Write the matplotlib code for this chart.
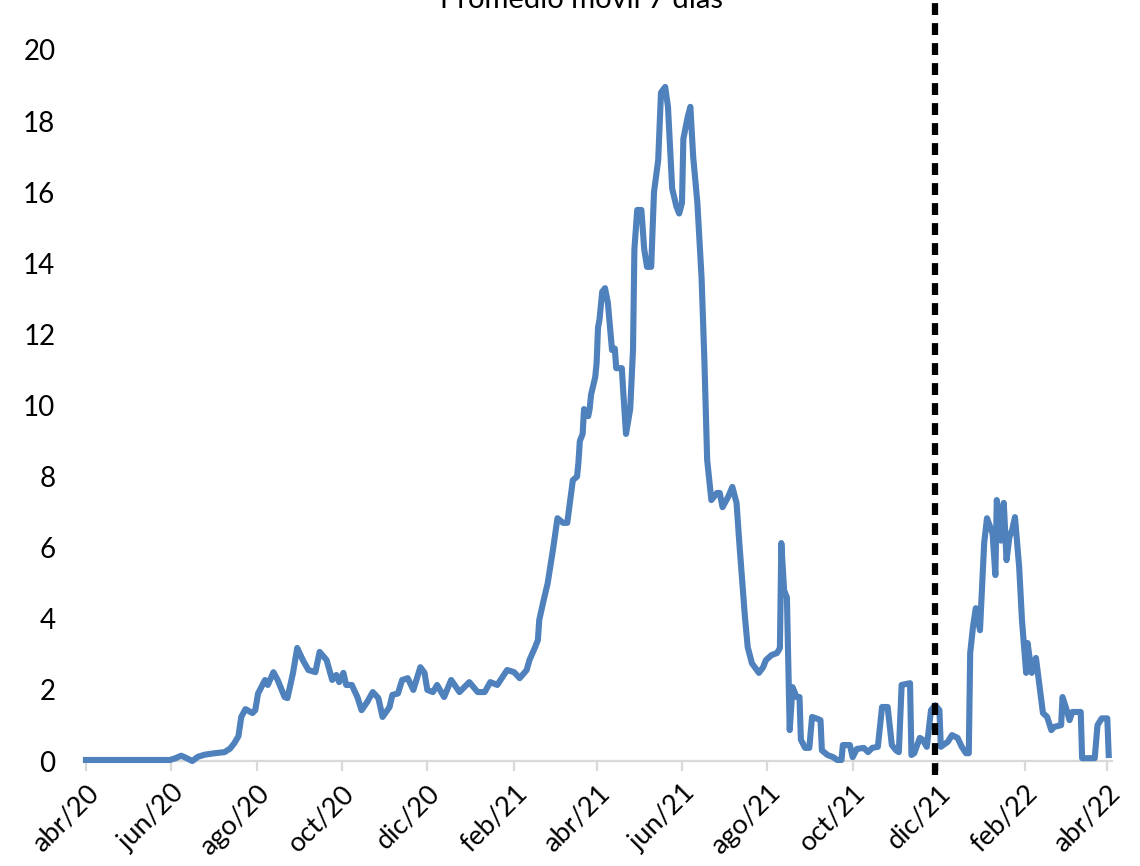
import numpy as np
import pandas as pd
import matplotlib
matplotlib.use("Agg")
import matplotlib.pyplot as plt

plt.rcParams['font.family'] = ['Lato', 'DejaVu Sans']

# --- Data ---
start_date = "2020-04-01"
# days since start_date
days = [0, 31, 60, 64, 68, 71, 76, 80, 85, 92, 99, 103, 106, 109, 111, 114, 119, 121,
        123, 128, 130, 134, 137, 142, 144, 148, 151, 155, 159, 164, 167, 172, 176, 179,
        181, 184, 186, 190, 194, 197, 201, 205, 209, 212, 217, 219, 223, 226, 230, 234,
        239, 242, 244, 248, 251, 256, 261, 267, 274, 280, 285, 289, 294, 301, 306, 310,
        315, 317, 321, 323, 324, 327, 330, 334, 337, 341, 344, 348, 351, 352, 353, 355,
        356, 359, 360, 361, 364, 365, 366, 367, 369, 371, 373, 376, 378, 379, 383, 384,
        386, 389, 391, 392, 394, 397, 399, 401, 404, 406, 409, 411, 414, 416, 419, 422,
        424, 426, 427, 430, 432, 434, 437, 440, 442, 444, 447, 451, 453, 455, 459, 462,
        465, 467, 469, 471, 473, 476, 481, 484, 486, 490, 494, 496, 497, 499, 501, 503,
        505, 508, 510, 511, 514, 517, 519, 522, 525, 526, 530, 534, 537, 540, 541, 546,
        548, 551, 556, 559, 562, 566, 569, 573, 576, 579, 581, 583, 589, 590, 592, 596,
        598, 601, 604, 607, 610, 611, 616, 619, 623, 626, 629, 631, 632, 634, 636, 639,
        642, 644, 648, 650, 651, 654, 656, 658, 660, 662, 664, 667, 669, 672, 673, 676,
        679, 681, 684, 687, 690, 692, 697, 698, 701, 703, 705, 711, 712, 721, 723, 726,
        730, 731]
promedio = [0.03, 0.03, 0.03, 0.08, 0.15, 0.10, 0.00, 0.12, 0.18, 0.22, 0.25, 0.35, 0.50,
            0.70, 1.24, 1.46, 1.35, 1.43, 1.90, 2.28, 2.14, 2.50, 2.28, 1.80, 1.77, 2.48,
            3.18, 2.84, 2.56, 2.50, 3.07, 2.84, 2.28, 2.42, 2.22, 2.48, 2.14, 2.14, 1.80,
            1.43, 1.66, 1.94, 1.77, 1.24, 1.52, 1.86, 1.90, 2.28, 2.33, 2.00, 2.64, 2.48,
            2.00, 1.94, 2.14, 1.80, 2.28, 1.94, 2.22, 1.94, 1.94, 2.22, 2.14, 2.56, 2.50,
            2.33, 2.56, 2.84, 3.20, 3.40, 3.97, 4.50, 5.00, 6.00, 6.83, 6.70, 6.70, 7.90,
            8.00, 8.40, 9.00, 9.20, 9.90, 9.70, 9.90, 10.3, 10.8, 11.2, 12.2, 12.4, 13.2,
            13.3, 12.9, 11.56, 11.6, 11.05, 11.05, 10.4, 9.20, 9.90, 11.56, 14.4, 15.5,
            15.5, 14.4, 13.9, 13.9, 16.0, 16.9, 18.8, 18.96, 18.4, 16.1, 15.6, 15.4, 15.7,
            17.5, 18.1, 18.4, 17.0, 15.7, 13.6, 11.3, 8.47, 7.34, 7.54, 7.54, 7.14, 7.43,
            7.71, 7.26, 6.13, 5.10, 4.05, 3.20, 2.75, 2.48, 2.64, 2.84, 2.98, 3.04, 3.18,
            6.13, 4.80, 4.60, 0.87, 2.08, 1.80, 1.80, 0.60, 0.37, 0.37, 1.24, 1.20, 1.15,
            0.30, 0.17, 0.11, 0.03, 0.03, 0.45, 0.45, 0.11, 0.34, 0.37, 0.25, 0.37, 0.40,
            1.52, 1.52, 0.45, 0.30, 0.25, 2.14, 2.19, 0.17, 0.22, 0.65, 0.60, 0.40, 1.43,
            1.57, 1.43, 0.40, 0.54, 0.73, 0.65, 0.40, 0.22, 0.22, 3.04, 3.77, 4.30, 3.68,
            6.13, 6.83, 6.40, 5.23, 7.34, 6.20, 7.26, 5.65, 6.30, 6.50, 6.86, 5.46, 3.97,
            2.48, 3.32, 2.48, 2.90, 2.28, 1.35, 1.24, 0.87, 0.96, 1.01, 1.80, 1.43, 1.15,
            1.38, 1.38, 0.08, 0.08, 1.01, 1.20, 1.20, 0.17]

tick_dates = ["2020-04-01", "2020-06-01", "2020-08-01", "2020-10-01", "2020-12-01",
              "2021-02-01", "2021-04-01", "2021-06-01", "2021-08-01", "2021-10-01",
              "2021-12-01", "2022-02-01", "2022-04-01"]
tick_labels = ["abr/20", "jun/20", "ago/20", "oct/20", "dic/20", "feb/21", "abr/21",
               "jun/21", "ago/21", "oct/21", "dic/21", "feb/22", "abr/22"]
marker_date = "2021-11-29"
title = "Promedio móvil 7 días"

# --- Plot ---
fechas = pd.Timestamp(start_date) + pd.to_timedelta(days, unit="D")

fig = plt.figure(figsize=(11.4, 8.66), dpi=100)
ax = fig.add_axes([0.0754, 0.1212, 0.8996, 0.8211])

ax.plot(fechas, promedio, color="#4F81BD", linewidth=4.4, clip_on=False,
        solid_joinstyle="round", zorder=3)
ax.axvline(pd.Timestamp(marker_date), ymin=-0.02, ymax=1.08, color="black",
           linewidth=4.5, linestyle=(0, (1.9, 1.3)), clip_on=False, zorder=4)

ax.set_ylim(0, 20)
ax.set_yticks(np.arange(0, 21, 2))
ax.set_xlim(pd.Timestamp(start_date), pd.Timestamp("2022-04-04"))
ax.set_xticks(pd.to_datetime(tick_dates))
ax.set_xticklabels(tick_labels, rotation=45, ha="right", va="top",
                   rotation_mode="anchor")

for side in ["top", "right", "left"]:
    ax.spines[side].set_visible(False)
ax.spines["bottom"].set_color("#d9d9d9")
ax.spines["bottom"].set_linewidth(1.6)
ax.tick_params(axis="x", length=7, width=1.6, color="#d9d9d9", labelsize=19.5, pad=7)
ax.tick_params(axis="y", length=0, labelsize=20, pad=22)

fig.text(0.51, 0.9908, title, ha="center", va="baseline", fontsize=21)

fig.savefig("out.png", dpi=100)
